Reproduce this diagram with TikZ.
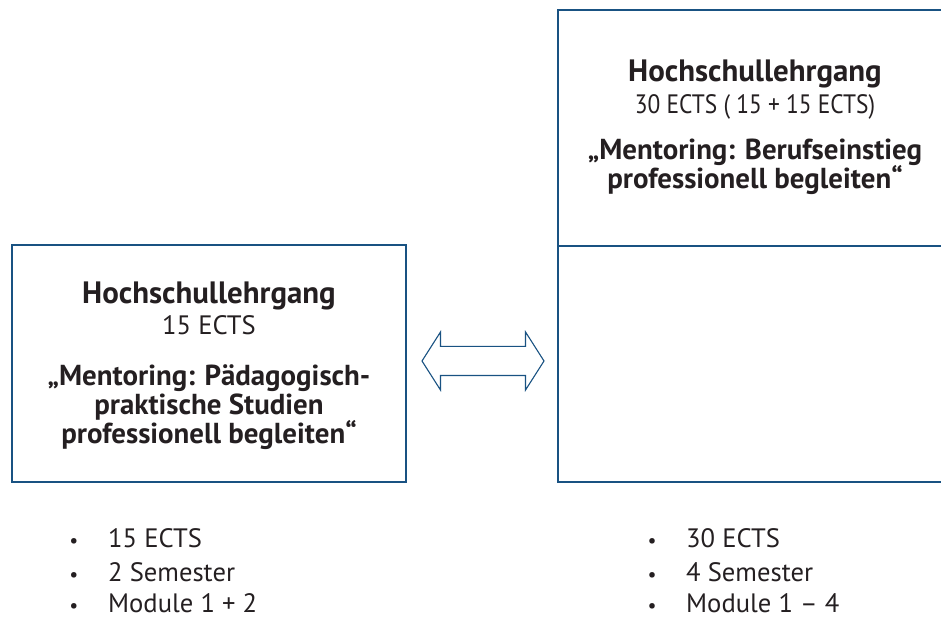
\documentclass[tikz,border=0pt]{standalone}
\usepackage{fontspec}
\setmainfont{PT Sans}
\usetikzlibrary{shapes.arrows}
\definecolor{rahmenblau}{rgb}{0.10,0.32,0.51}
\definecolor{schrift}{rgb}{0.14,0.12,0.13}
\def\kursstr#1{\fontsize{29}{31}\selectfont\textbf{#1}}
\def\titelstr#1{\fontsize{31}{33}\selectfont\textbf{#1}}

\begin{document}
\begin{tikzpicture}[line join=miter]
      \useasboundingbox (0bp,0bp) rectangle (941bp,619bp);
      \clip (0bp,0bp) rectangle (941bp,619bp);
      \tikzset{kasten/.style={draw=rahmenblau,line width=2.6bp,fill=white,inner sep=0pt},
               zeile/.style={anchor=base,text=schrift,inner sep=0pt,font=\fontsize{26.7}{29}\selectfont},
               punkt/.style={anchor=base,text=schrift,inner sep=0pt,font=\fontsize{20}{22}\selectfont}}
      %%
      \node (kurz) at (209.0bp,255.5bp) [kasten,minimum width=394bp,minimum height=237bp] {};
      \node (langoben) at (755.0bp,491.0bp) [kasten,minimum width=394bp,minimum height=236bp] {};
      \node (langunten) at (755.0bp,255.0bp) [kasten,minimum width=394bp,minimum height=236bp] {};
      \node (pfeil) at (483.0bp,258.0bp) [double arrow,draw=rahmenblau,line width=1.1bp,fill=white,inner xsep=0pt,inner ysep=14bp,minimum height=122bp,double arrow head extend=14.5bp,double arrow tip angle=115] {};
      %% left box
      \node (k1) at (209.0bp,315.0bp) [zeile] {\titelstr{Hochschullehrgang}};
      \node (k2) at (209.0bp,284.0bp) [zeile] {15 ECTS};
      \node (k3) at (209.0bp,233.0bp) [zeile] {\kursstr{„Mentoring: Pädagogisch-}};
      \node (k4) at (209.0bp,204.0bp) [zeile] {\kursstr{praktische Studien}};
      \node (k5) at (209.0bp,175.0bp) [zeile] {\kursstr{professionell begleiten“}};
      %% right box
      \node (l1) at (755.0bp,537.0bp) [zeile] {\titelstr{Hochschullehrgang}};
      \node (l2) at (755.0bp,505.0bp) [zeile] {\scalebox{0.88}[1.0]{30 ECTS ( 15 + 15 ECTS)}};
      \node (l3) at (755.0bp,459.0bp) [zeile] {\kursstr{„Mentoring: Berufseinstieg}};
      \node (l4) at (755.0bp,430.0bp) [zeile] {\kursstr{professionell begleiten“}};
      %% lists
      \node (kp1) at (74.0bp,71.0bp) [punkt] {\textbullet};
      \node (kp2) at (74.0bp,38.0bp) [punkt] {\textbullet};
      \node (kp3) at (74.0bp,7.0bp) [punkt] {\textbullet};
      \node (kt1) at (108.0bp,71.0bp) [zeile,anchor=base west] {15 ECTS};
      \node (kt2) at (108.0bp,38.0bp) [zeile,anchor=base west] {2 Semester};
      \node (kt3) at (108.0bp,7.0bp) [zeile,anchor=base west] {Module 1 + 2};
      \node (lp1) at (652.0bp,71.0bp) [punkt] {\textbullet};
      \node (lp2) at (652.0bp,38.0bp) [punkt] {\textbullet};
      \node (lp3) at (652.0bp,7.0bp) [punkt] {\textbullet};
      \node (lt1) at (686.0bp,71.0bp) [zeile,anchor=base west] {30 ECTS};
      \node (lt2) at (686.0bp,38.0bp) [zeile,anchor=base west] {4 Semester};
      \node (lt3) at (686.0bp,7.0bp) [zeile,anchor=base west] {Module 1 – 4};
    \end{tikzpicture}
\end{document}
